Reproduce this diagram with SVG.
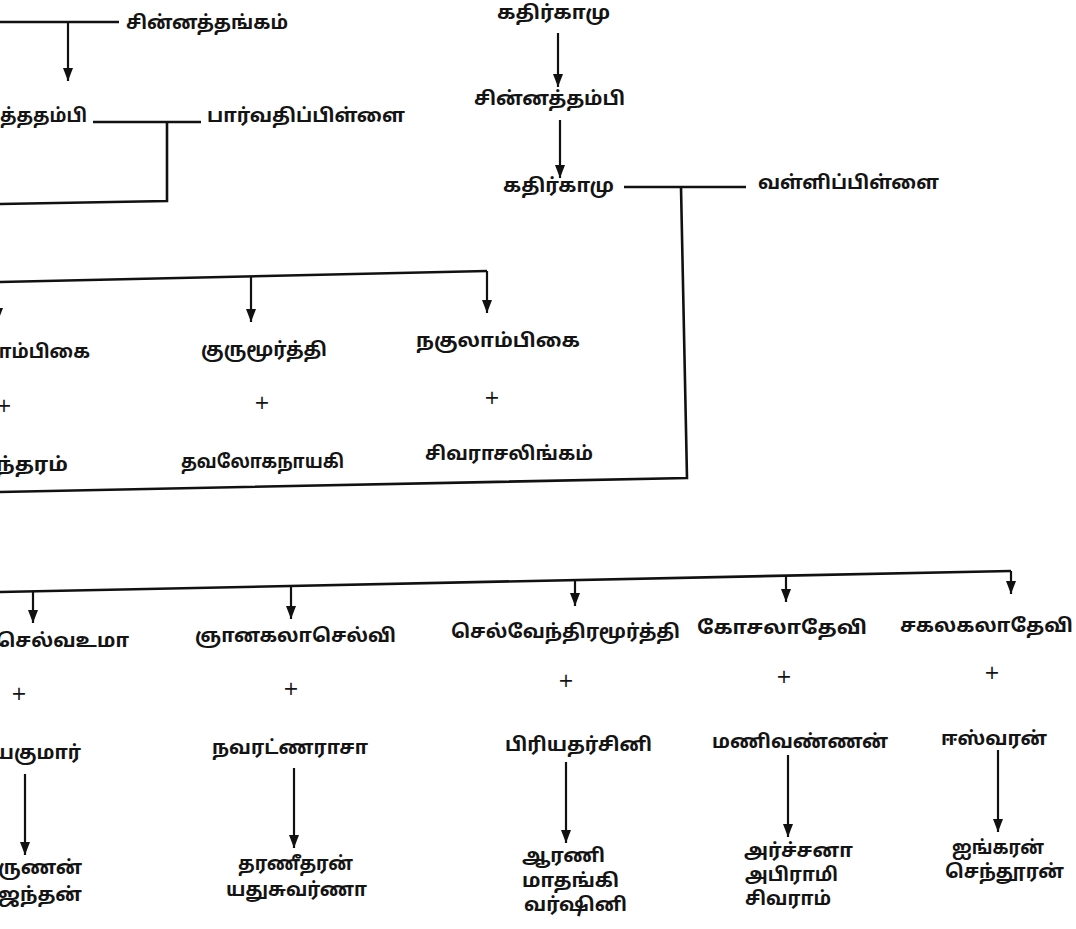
<svg xmlns="http://www.w3.org/2000/svg" width="1076" height="929" viewBox="0 0 1076 929">
<defs>
<marker id="ah" markerUnits="userSpaceOnUse" markerWidth="14" markerHeight="12" refX="13" refY="5" orient="auto">
<path d="M0,0 L13,5 L0,10 z" fill="#111"/>
</marker>
<style>
.t{font-family:"Noto Sans Tamil","Lohit Tamil","Noto Sans","DejaVu Sans",sans-serif;font-size:19px;font-weight:bold;fill:#141414;dominant-baseline:central}
.p{font-family:"DejaVu Sans","Liberation Sans",sans-serif;font-size:19px;fill:#141414;text-anchor:middle;dominant-baseline:central}
.c{fill:none;stroke:#111;stroke-width:2.6}
.a{fill:none;stroke:#111;stroke-width:2.2;marker-end:url(#ah)}
</style>
</defs>
<rect width="1076" height="929" fill="#fff"/>
<g id="connectors">
<path class="c" d="M0,22 H119"/>
<path class="a" d="M68,22 V81"/>
<path class="c" d="M93,122 H201"/>
<path class="c" d="M167,122 L167,201 L0,204"/>
<path class="a" d="M558,33 V87"/>
<path class="a" d="M560,120 V178"/>
<path class="c" d="M624,187 H746"/>
<path class="c" d="M681,187 L687,478 L0,492"/>
<path class="c" d="M0,282 L487,271"/>
<path class="a" d="M487,271 V313"/>
<path class="a" d="M251,277 V322"/>
<path class="a" d="M-2,282 V321"/>
<path class="c" d="M0,592 L1011,571"/>
<path class="a" d="M1011,571 V594"/>
<path class="a" d="M33,591 V623"/>
<path class="a" d="M291,586 V619"/>
<path class="a" d="M575,580 V606"/>
<path class="a" d="M786,576 V602"/>
<path class="a" d="M25,774 V855"/>
<path class="a" d="M294,768 V848"/>
<path class="a" d="M566,762 V843"/>
<path class="a" d="M788,755 V837"/>
<path class="a" d="M998,750 V832"/>
</g>
<g id="n-chinnathangam"><text class="t" x="126" y="24" textLength="162" lengthAdjust="spacingAndGlyphs">சின்னத்தங்கம்</text></g>
<g id="n-thathambi"><text class="t" x="0" y="117" textLength="87" lengthAdjust="spacingAndGlyphs">த்ததம்பி</text></g>
<g id="n-parvathi"><text class="t" x="207" y="117" textLength="198" lengthAdjust="spacingAndGlyphs">பார்வதிப்பிள்ளை</text></g>
<g id="n-kathirkamu1"><text class="t" x="497" y="14" textLength="113" lengthAdjust="spacingAndGlyphs">கதிர்காமு</text></g>
<g id="n-chinnathambi"><text class="t" x="474" y="100" textLength="151" lengthAdjust="spacingAndGlyphs">சின்னத்தம்பி</text></g>
<g id="n-kathirkamu2"><text class="t" x="503" y="187" textLength="111" lengthAdjust="spacingAndGlyphs">கதிர்காமு</text></g>
<g id="n-valli"><text class="t" x="758" y="184" textLength="181" lengthAdjust="spacingAndGlyphs">வள்ளிப்பிள்ளை</text></g>
<g id="n-ambikai"><text class="t" x="-18" y="353" textLength="108" lengthAdjust="spacingAndGlyphs">காம்பிகை</text><text class="p" x="4" y="405">+</text><text class="t" x="-4" y="466" textLength="72" lengthAdjust="spacingAndGlyphs">ந்தரம்</text></g>
<g id="n-gurumoorthy"><text class="t" x="201" y="351" textLength="126" lengthAdjust="spacingAndGlyphs">குருமூர்த்தி</text><text class="p" x="262" y="402">+</text><text class="t" x="181" y="463" textLength="163" lengthAdjust="spacingAndGlyphs">தவலோகநாயகி</text></g>
<g id="n-nakulambikai"><text class="t" x="416" y="342" textLength="164" lengthAdjust="spacingAndGlyphs">நகுலாம்பிகை</text><text class="p" x="492" y="397">+</text><text class="t" x="425" y="455" textLength="168" lengthAdjust="spacingAndGlyphs">சிவராசலிங்கம்</text></g>
<g id="n-selvauma"><text class="t" x="-4" y="642" textLength="133" lengthAdjust="spacingAndGlyphs">செல்வஉமா</text><text class="p" x="19" y="693">+</text><text class="t" x="-6" y="754" textLength="87" lengthAdjust="spacingAndGlyphs">யகுமார்</text><text class="t" x="-2" y="869" textLength="84" lengthAdjust="spacingAndGlyphs">ருணன்</text><text class="t" x="-2" y="896" textLength="84" lengthAdjust="spacingAndGlyphs">ஜந்தன்</text></g>
<g id="n-gnanakala"><text class="t" x="195" y="637" textLength="201" lengthAdjust="spacingAndGlyphs">ஞானகலாசெல்வி</text><text class="p" x="291" y="688">+</text><text class="t" x="212" y="749" textLength="156" lengthAdjust="spacingAndGlyphs">நவரட்ணராசா</text><text class="t" x="238" y="865" textLength="115" lengthAdjust="spacingAndGlyphs">தரணீதரன்</text><text class="t" x="226" y="891" textLength="141" lengthAdjust="spacingAndGlyphs">யதுசுவர்ணா</text></g>
<g id="n-selvendra"><text class="t" x="451" y="633" textLength="229" lengthAdjust="spacingAndGlyphs">செல்வேந்திரமூர்த்தி</text><text class="p" x="566" y="680">+</text><text class="t" x="505" y="746" textLength="147" lengthAdjust="spacingAndGlyphs">பிரியதர்சினி</text><text class="t" x="522" y="857" textLength="83" lengthAdjust="spacingAndGlyphs">ஆரணி</text><text class="t" x="522" y="882" textLength="97" lengthAdjust="spacingAndGlyphs">மாதங்கி</text><text class="t" x="524" y="906" textLength="103" lengthAdjust="spacingAndGlyphs">வர்ஷினி</text></g>
<g id="n-kosala"><text class="t" x="697" y="629" textLength="170" lengthAdjust="spacingAndGlyphs">கோசலாதேவி</text><text class="p" x="784" y="676">+</text><text class="t" x="712" y="743" textLength="176" lengthAdjust="spacingAndGlyphs">மணிவண்ணன்</text><text class="t" x="744" y="852" textLength="109" lengthAdjust="spacingAndGlyphs">அர்ச்சனா</text><text class="t" x="745" y="876" textLength="93" lengthAdjust="spacingAndGlyphs">அபிராமி</text><text class="t" x="745" y="900" textLength="86" lengthAdjust="spacingAndGlyphs">சிவராம்</text></g>
<g id="n-sakalakala"><text class="t" x="900" y="627" textLength="173" lengthAdjust="spacingAndGlyphs">சகலகலாதேவி</text><text class="p" x="992" y="672">+</text><text class="t" x="941" y="740" textLength="106" lengthAdjust="spacingAndGlyphs">ஈஸ்வரன்</text><text class="t" x="952" y="849" textLength="92" lengthAdjust="spacingAndGlyphs">ஐங்கரன்</text><text class="t" x="945" y="873" textLength="119" lengthAdjust="spacingAndGlyphs">செந்தூரன்</text></g>
</svg>
